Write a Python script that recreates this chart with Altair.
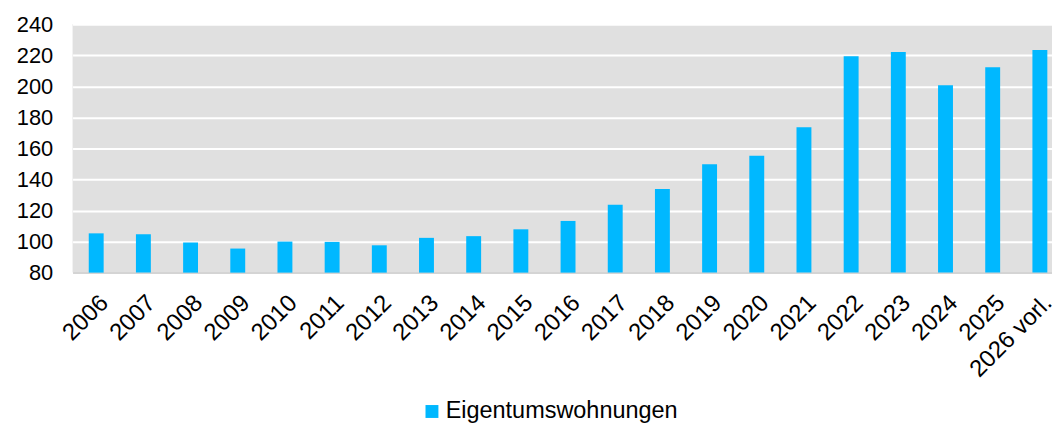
import altair as alt
import pandas as pd

years = ["2006", "2007", "2008", "2009", "2010", "2011", "2012", "2013", "2014",
         "2015", "2016", "2017", "2018", "2019", "2020", "2021", "2022", "2023",
         "2024", "2025", "2026 vorl."]
values = [105.3, 104.7, 99.4, 95.5, 100.0, 99.8, 97.6, 102.4, 103.5,
          107.9, 113.3, 123.7, 133.9, 149.9, 155.3, 173.6, 219.4, 222.2,
          200.8, 212.3, 223.5]
series_name = "Eigentumswohnungen"
y_ticks = [80, 100, 120, 140, 160, 180, 200, 220, 240]

df = pd.DataFrame({"Jahr": years, "Wert": values, "Serie": [series_name] * len(years)})

FONT = "Liberation Sans"

chart = alt.Chart(df).mark_bar(color="#00B8FF").encode(
    x=alt.X("Jahr:N", sort=None, title=None,
            scale=alt.Scale(paddingInner=0.684, paddingOuter=0.221, align=0.776),
            axis=alt.Axis(labelAngle=-45, labelFontSize=24, labelFont=FONT,
                          labelColor="black", ticks=False, labelPadding=18,
                          domain=True, domainColor="#D4D4D4", domainWidth=2,
                          grid=False, labelOverlap=False, labelLimit=0)),
    y=alt.Y("Wert:Q", title=None,
            scale=alt.Scale(domain=[80, 240], zero=False, nice=False),
            axis=alt.Axis(values=y_ticks, labelFontSize=22, labelFont=FONT,
                          labelColor="black", ticks=False, labelPadding=20,
                          domain=False, grid=True, gridColor="white", gridWidth=2,
                          labelFlush=False, labelOverlap=False)),
    y2=alt.datum(80),
    color=alt.Color("Serie:N", title=None,
                    scale=alt.Scale(range=["#00B8FF"]),
                    legend=alt.Legend(orient="none", legendX=350, legendY=378,
                                      symbolType="square", symbolSize=169,
                                      symbolStrokeWidth=0, labelFontSize=23.6,
                                      labelFont=FONT, labelColor="black",
                                      labelOffset=2, padding=0, labelLimit=0)),
).properties(
    width=986, height=250,
    autosize=alt.AutoSizeParams(type="none"),
    padding={"left": 65, "top": 15, "right": 0, "bottom": 151},
).configure(
    background="white",
    view=alt.ViewConfig(fill="#E0E0E0", stroke=None),
)

chart.save("out.html", embed_options={"renderer": "svg", "actions": False})
